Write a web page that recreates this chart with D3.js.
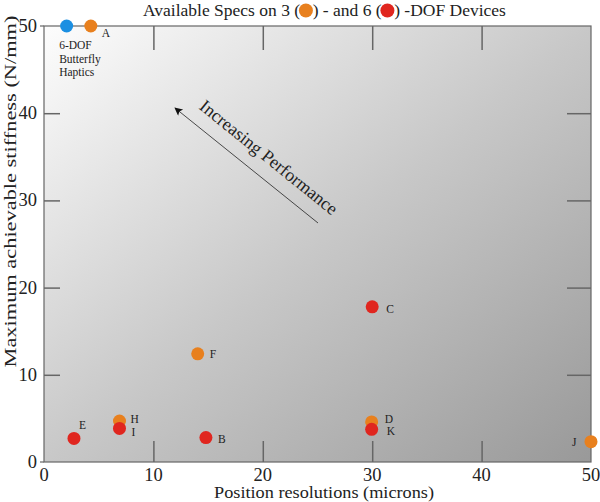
<!DOCTYPE html>
<html><head><meta charset="utf-8">
<script src="https://cdn.jsdelivr.net/npm/d3@7"></script>
<style>body{margin:0;background:#fff}svg{display:block}text{font-family:"Liberation Serif","Times New Roman",serif}</style>
</head><body>
<script>
// ---- data ----
const names   = ["Butterfly","A","B","C","D","E","F","H","I","J","K"];
const xs      = [2.07, 4.28, 14.8, 30.0, 29.95, 2.74, 14.05, 6.9, 6.9, 50.0, 29.95];
const ys      = [50.0, 50.0, 2.8, 17.8, 4.6, 2.7, 12.4, 4.7, 3.85, 2.33, 3.75];
const kinds   = ["butterfly","3dof","6dof","6dof","3dof","6dof","3dof","3dof","6dof","3dof","6dof"];
const xTicks  = [0,10,20,30,40,50];
const yTicks  = [0,10,20,30,40,50];
const titleParts = ["Available Specs on 3 (", "3dof", ") - and 6 (", "6dof", ") -DOF Devices"];
const butterflyLabel = ["6-DOF","Butterfly","Haptics"];
// label offsets (layout, px)
const labelOffsets = {A:[11,11],B:[12,5],C:[14,6],D:[13,1],E:[5,-9],F:[12,4],H:[11,2],I:[12,8],J:[-19,4],K:[15,6]};

const colors = {"3dof":"#e8801e","6dof":"#e0261f","butterfly":"#1b8fe2"};

const W=600,H=502;
const m={l:44,r:9,t:26,b:40};
const svg=d3.select("body").append("svg").attr("width",W).attr("height",H);
const x=d3.scaleLinear().domain([0,50]).range([m.l,W-m.r]);
const y=d3.scaleLinear().domain([0,50]).range([H-m.b,m.t]);

const defs=svg.append("defs");
const g=defs.append("linearGradient").attr("id","bg").attr("x1","0").attr("y1","0").attr("x2","1").attr("y2","1");
g.append("stop").attr("offset","0").attr("stop-color","#fdfdfd");
g.append("stop").attr("offset","0.5").attr("stop-color","#c8c8c8");
g.append("stop").attr("offset","1").attr("stop-color","#999999");
defs.append("marker").attr("id","arr").attr("viewBox","0 0 10 10").attr("refX",9).attr("refY",5)
  .attr("markerWidth",10).attr("markerHeight",8).attr("orient","auto-start-reverse").attr("markerUnits","userSpaceOnUse")
  .append("path").attr("d","M0,0L10,5L0,10L2,5Z").attr("fill","#111");

svg.append("rect").attr("x",x(0)).attr("y",y(50)).attr("width",x(50)-x(0)).attr("height",y(0)-y(50))
  .attr("fill","url(#bg)").attr("stroke","#666").attr("stroke-width",1.2);

svg.append("line").attr("x1",x(0)-4).attr("x2",x(0)).attr("y1",y(50)).attr("y2",y(50)).attr("stroke","#666").attr("stroke-width",1.2);
svg.append("line").attr("x1",x(0)-4).attr("x2",x(0)).attr("y1",y(0)).attr("y2",y(0)).attr("stroke","#666").attr("stroke-width",1.2);

const inner=xTicks.slice(1,-1), innerY=yTicks.slice(1,-1);
const xb=svg.append("g").attr("transform",`translate(0,${y(0)})`).call(d3.axisBottom(x).tickValues(inner).tickSize(-21).tickFormat(""));
const xt=svg.append("g").attr("transform",`translate(0,${y(50)})`).call(d3.axisTop(x).tickValues(inner).tickSize(-24).tickFormat(""));
const yl=svg.append("g").attr("transform",`translate(${x(0)},0)`).call(d3.axisLeft(y).tickValues(innerY).tickSize(-16).tickFormat(""));
const yr=svg.append("g").attr("transform",`translate(${x(50)},0)`).call(d3.axisRight(y).tickValues(innerY).tickSize(-24).tickFormat(""));
[xb,xt,yl,yr].forEach(a=>{a.select(".domain").remove();a.selectAll(".tick line").attr("stroke","#666").attr("stroke-width",1.5);});

// tick labels
svg.append("g").selectAll("text").data(xTicks).join("text").attr("x",d=>x(d)).attr("y",y(0)+19)
  .attr("text-anchor","middle").attr("font-size",18.5).attr("fill","#222").text(d=>d);
svg.append("g").selectAll("text").data(yTicks).join("text").attr("x",x(0)-7).attr("y",d=>y(d)+6)
  .attr("text-anchor","end").attr("font-size",18.5).attr("fill","#222").text(d=>d);

// axis titles
svg.append("text").attr("x",214).attr("y",497.5).attr("font-size",17.5).attr("fill","#222")
  .attr("textLength",220).attr("lengthAdjust","spacingAndGlyphs")
  .text("Position resolutions (microns)");
svg.append("text").attr("transform",`translate(16,${191.5}) rotate(-90)`).attr("text-anchor","middle").attr("font-size",17).attr("fill","#222")
  .attr("textLength",352).attr("lengthAdjust","spacingAndGlyphs")
  .text("Maximum achievable stiffness (N/mm)");

// title: text pieces with coloured dots between
{
  const tt=svg.append("text").attr("x",143).attr("y",15.5).attr("font-size",17.5).attr("fill","#222");
  const dotW=12.5;
  let pendingDx=0; const dotKinds=[];
  titleParts.forEach(p=>{
    if(colors[p]){ pendingDx+=dotW; dotKinds.push(p); }
    else { tt.append("tspan").attr("dx",pendingDx||null).text(p); pendingDx=0; }
  });
  const spans=tt.selectAll("tspan").nodes();
  dotKinds.forEach((k,i)=>{
    const n=spans[i]; const nc=n.getNumberOfChars();
    const e=n.getExtentOfChar(nc-1);
    svg.append("circle").attr("cx",e.x+e.width+dotW/2-0.5).attr("cy",10.5).attr("r",7).attr("fill",colors[k]);
  });
}

// arrow + text
svg.append("line").attr("x1",318).attr("y1",223).attr("x2",175).attr("y2",108)
  .attr("stroke","#222").attr("stroke-width",0.8).attr("marker-end","url(#arr)");
svg.append("text").attr("transform","translate(265,162) rotate(38.8)").attr("text-anchor","middle")
  .attr("font-size",18).attr("fill","#222").text("Increasing Performance");

// points
const pts=names.map((n,i)=>({n,x:xs[i],y:ys[i],k:kinds[i]}));
svg.append("g").selectAll("circle").data(pts).join("circle")
  .attr("cx",d=>x(d.x)).attr("cy",d=>y(d.y)).attr("r",6.5).attr("fill",d=>colors[d.k]);
svg.append("g").selectAll("text").data(pts.filter(d=>d.k!=="butterfly")).join("text")
  .attr("x",d=>x(d.x)+labelOffsets[d.n][0]).attr("y",d=>y(d.y)+labelOffsets[d.n][1])
  .attr("font-size",11.5).attr("fill","#222").text(d=>d.n);
const bf=pts[0];
svg.append("g").selectAll("text").data(butterflyLabel).join("text")
  .attr("x",x(bf.x)-7.5).attr("y",(d,i)=>y(bf.y)+23+i*13.5).attr("font-size",11.5).attr("fill","#222").text(d=>d);
</script>
</body></html>
